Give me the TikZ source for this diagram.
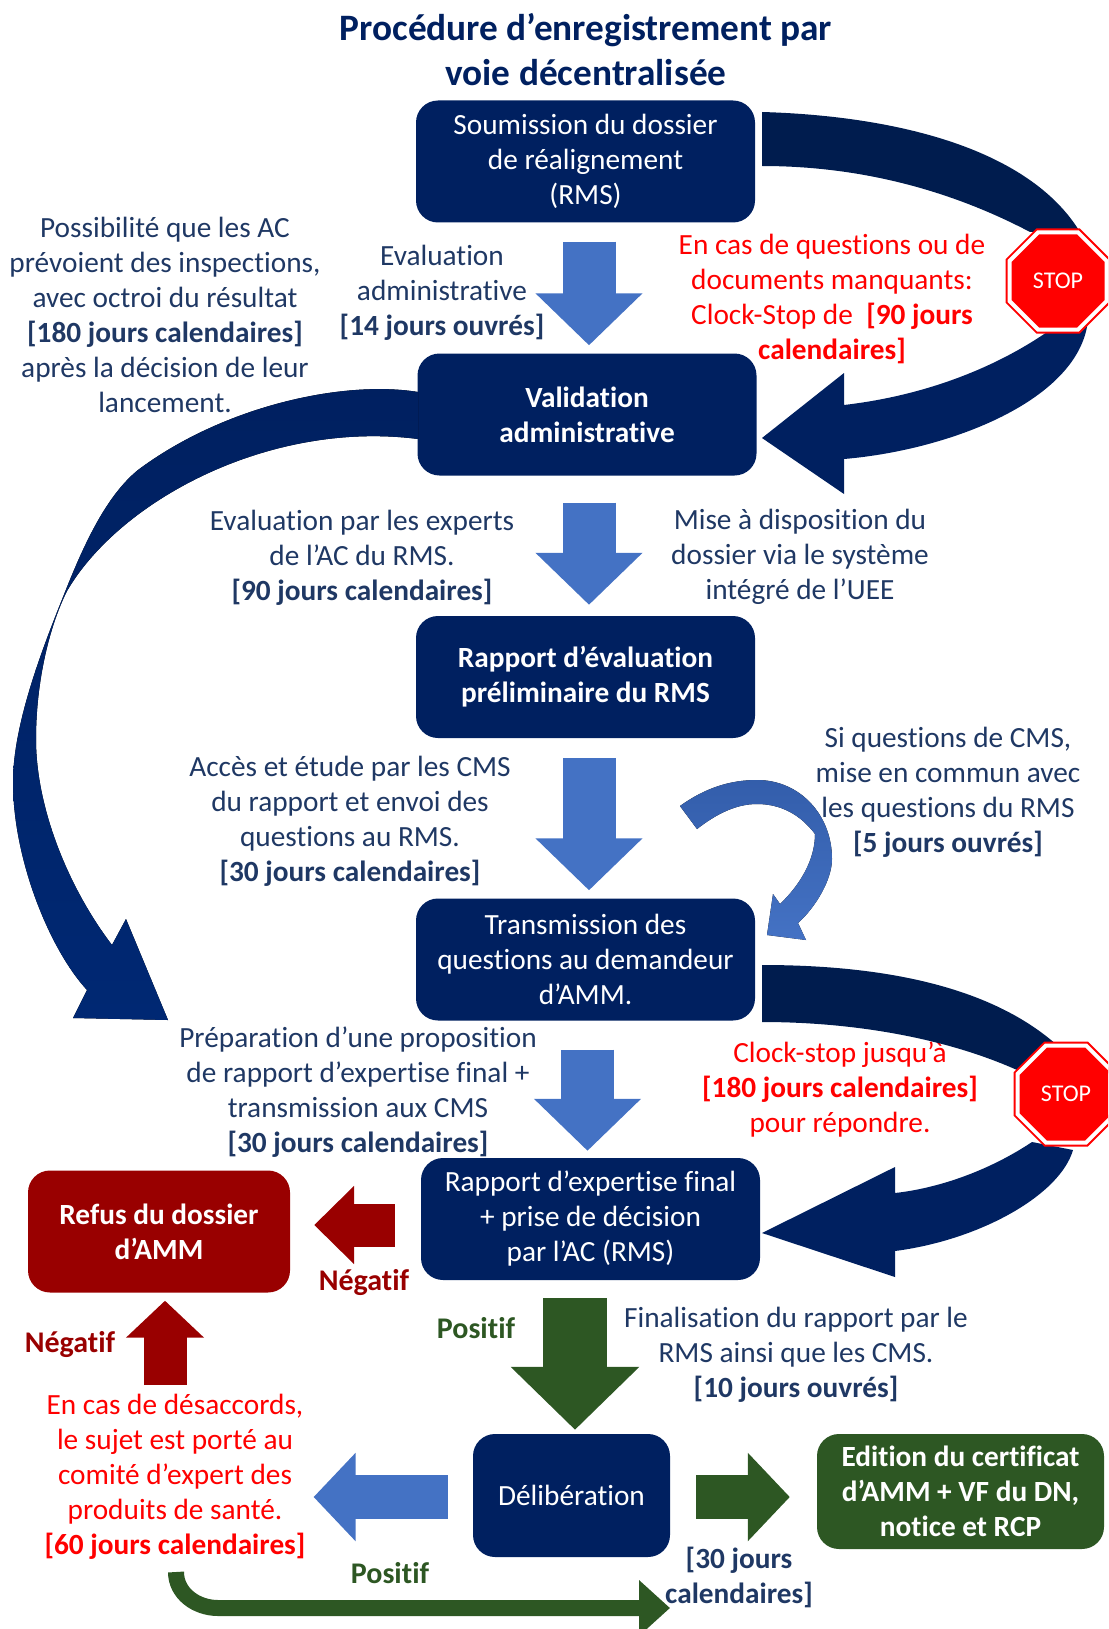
\documentclass[tikz,border=0pt]{standalone}
\usepackage{fontspec}
\setmainfont{Carlito}[Ligatures=NoCommon]
\usetikzlibrary{arrows.meta,shapes.geometric}
\definecolor{navy}{HTML}{002060}
\definecolor{navydark}{HTML}{001C4E}
\definecolor{navylight}{HTML}{002873}
\definecolor{inktext}{HTML}{1F3864}
\definecolor{flowblue}{HTML}{4472C4}
\definecolor{flowgreen}{HTML}{2D5723}
\definecolor{flowred}{HTML}{990000}
\newcommand{\bodyfont}{\fontsize{29.3}{35}\selectfont}
\tikzset{
    box/.style={rectangle, rounded corners=22pt, fill=navy, text=white, align=center, inner sep=0pt,
        font=\bodyfont, minimum width=339pt, minimum height=122pt},
    boldbox/.style={box, font=\bodyfont\bfseries},
    note/.style={align=center, inner sep=0pt, text=inktext, font=\bodyfont},
    rednote/.style={note, text=red},
    tag/.style={inner sep=0pt, font=\fontsize{30}{35}\selectfont\bfseries},
    stopsign/.style={regular polygon, regular polygon sides=8, inner sep=0pt,
        draw=red, double=white, line width=2pt, double distance=4pt, fill=red, text=white,
        minimum size=105pt, font=\fontsize{24}{28}\selectfont},
    bluedown/.style={flowblue, line width=53pt, -{Triangle[length=52pt,width=104pt]}},
    greenfat/.style={flowgreen, line width=64pt, -{Triangle[length=63pt,width=125pt]}},
    sidearrow/.style={line width=44pt, -{Triangle[length=42pt,width=86pt]}}
}

\begin{document}
\begin{tikzpicture}[x=1pt,y=-1pt]
    \useasboundingbox (0,0) rectangle (1108,1629);
    \clip (0,0) rectangle (1108,1629);

    % Title
    \node[note, text=navy, font=\fontsize{37.3}{45}\selectfont\bfseries] (title) at (586,50) {Procédure d’enregistrement par\\voie décentralisée};

    % Main boxes
    \node[box] (soum) at (585.5,161.5) {Soumission du dossier\\de réalignement\\(RMS)};
    \node[boldbox] (valid) at (587,414.5) {Validation\\administrative};
    \node[boldbox] (prelim) at (585.5,677) {Rapport d’évaluation\\préliminaire du RMS};
    \node[box] (trans) at (585.5,959.5) {Transmission des\\questions au demandeur\\d’AMM.};
    \node[box] (final) at (590.5,1219) {Rapport d’expertise final\\+ prise de décision\\par l’AC (RMS)};
    \node[boldbox, fill=flowred, minimum width=262pt] (refus) at (159,1231.5) {Refus du dossier\\d’AMM};
    \node[box, minimum width=197pt, minimum height=123pt] (delib) at (571.5,1495.5) {Délibération};
    \node[boldbox, fill=flowgreen, minimum width=287pt, minimum height=115pt] (edition) at (960.5,1491.5) {Edition du certificat\\d’AMM + VF du DN,\\notice et RCP};

    % Notes
    \node[note] (inspect) at (165,315) {Possibilité que les AC\\prévoient des inspections,\\avec octroi du résultat\\\textbf{[180 jours calendaires]}\\après la décision de leur\\lancement.};
    \node[note] (evaladm) at (442,293) {Evaluation\\administrative\\\textbf{[14 jours ouvrés]}};
    \node[rednote] (clocka) at (832,299) {En cas de questions ou de\\documents manquants:\\Clock-Stop de \ \textbf{[90 jours}\\\textbf{calendaires]}};
    \node[note] (evalexp) at (362,558) {Evaluation par les experts\\de l’AC du RMS.\\\textbf{[90 jours calendaires]}};
    \node[note] (mise) at (800,557) {Mise à disposition du\\dossier via le système\\intégré de l’UEE};
    \node[note] (acces) at (350,821) {Accès et étude par les CMS\\du rapport et envoi des\\questions au RMS.\\\textbf{[30 jours calendaires]}};
    \node[note] (siquest) at (948,792) {Si questions de CMS,\\mise en commun avec\\les questions du RMS\\\textbf{[5 jours ouvrés]}};
    \node[rednote] (clockb) at (840,1090) {Clock-stop jusqu’à\\\textbf{[180 jours calendaires]}\\pour répondre.};
    \node[note] (prepa) at (358,1092) {Préparation d’une proposition\\de rapport d’expertise final +\\transmission aux CMS\\\textbf{[30 jours calendaires]}};
    \node[note] (finalis) at (796,1355) {Finalisation du rapport par le\\RMS ainsi que les CMS.\\\textbf{[10 jours ouvrés]}};
    \node[rednote] (desac) at (175,1477) {En cas de désaccords,\\le sujet est porté au\\comité d’expert des\\produits de santé.\\\textbf{[60 jours calendaires]}};
    \node[note] (trente) at (739,1577) {\textbf{[30 jours}\\\textbf{calendaires]}};

    % Tags on the arrows
    \node[tag, text=flowred] (negright) at (364,1283) {Négatif};
    \node[tag, text=flowred] (negleft) at (70,1344) {Négatif};
    \node[tag, text=flowgreen] (posdown) at (476,1328) {Positif};
    \node[tag, text=flowgreen] (posback) at (390,1573) {Positif};

    % Straight arrows between boxes
    \draw[bluedown, shorten <=19pt, shorten >=8pt] ([xshift=3.5pt]soum.south) -- ([xshift=3.5pt]soum.south |- valid.north);
    \draw[bluedown, shorten <=27pt, shorten >=11pt] ([xshift=2pt]valid.south) -- ([xshift=2pt]valid.south |- prelim.north);
    \draw[bluedown, shorten <=20pt, shorten >=8pt] ([xshift=3.5pt]prelim.south) -- ([xshift=3.5pt]prelim.south |- trans.north);
    \draw[bluedown, shorten <=29pt, shorten >=7pt] ([xshift=2pt]trans.south) -- ([xshift=2pt]trans.south |- final.north);
    \draw[greenfat, shorten <=18pt, shorten >=4pt] ([xshift=3.5pt]delib.north |- final.south) -- ([xshift=3.5pt]delib.north);
    \draw[sidearrow, flowred, line width=43pt, -{Triangle[length=40pt,width=76pt]}, shorten <=26pt, shorten >=24pt] ([yshift=-6pt]final.west) -- ([yshift=-6pt]final.west -| refus.east);
    \draw[flowred, line width=43pt, -{Triangle[length=37pt,width=76pt]}, shorten <=9pt, shorten >=8pt] ([xshift=6pt]refus.south |- desac.north) -- ([xshift=6pt]refus.south);
    \draw[sidearrow, flowblue, shorten <=25pt, shorten >=8pt] ([yshift=-1.5pt]delib.west) -- ([yshift=-1.5pt]delib.west -| desac.east);
    \draw[sidearrow, flowgreen, shorten <=26pt, shorten >=27pt] ([yshift=-1.5pt]delib.east) -- ([yshift=-1.5pt]delib.east -| edition.west);

    % Positive return under the notes
    \coordinate (backfrom) at (176,1572);
    \coordinate (backbend) at (218,1608);
    \coordinate (backto) at (670,1608);
    \draw[flowgreen, line width=16pt, -{Triangle[length=31pt,width=54pt]}] (backfrom) to[out=-90, in=180] (backbend) -- (backto);

    % First clock-stop loop
    \fill[navydark] (762,112) .. controls (900,116) and (1030,150) .. (1080,232) -- (1030,232) .. controls (950,190) and (860,166) .. (762,166) -- cycle;
    \fill[navy] (1088,320) .. controls (1080,400) and (950,450) .. (844,459) -- (844,494) -- (762,438) -- (844,373) -- (844,405) .. controls (930,395) and (1000,365) .. (1050,330) -- cycle;
    \node[stopsign] (stopa) at (1058,281) {STOP};

    % Second clock-stop loop
    \fill[navydark] (762,965) .. controls (880,965) and (990,985) .. (1058,1046) -- (1017,1070) .. controls (950,1040) and (860,1022) .. (762,1022) -- cycle;
    \fill[navy] (1073,1150) .. controls (1060,1195) and (980,1240) .. (895,1251) -- (895,1277) -- (762,1233) -- (895,1167) -- (895,1193) .. controls (940,1188) and (990,1170) .. (1032,1142) -- cycle;
    \node[stopsign] (stopb) at (1066,1094) {STOP};

    % Inspection arrow on the left
    \fill[top color=navy, bottom color=navylight] (418,392) .. controls (345,380) and (225,405) .. (138,470) .. controls (106,496) and (84,545) .. (67,587) .. controls (47,637) and (13,720) .. (13,782) .. controls (13,860) and (50,950) .. (87,990) -- (73,1018) -- (168,1020) -- (126,919) -- (112,945) .. controls (70,890) and (36,810) .. (36,739) .. controls (36,680) and (50,625) .. (67,591) .. controls (120,500) and (270,420) .. (418,439) -- cycle;

    % Small arrow from the CMS questions
    \fill[top color=flowblue!75!navy, bottom color=flowblue] (680,806) .. controls (705,788) and (730,780) .. (757,780) .. controls (800,780) and (832,815) .. (832,859) .. controls (832,880) and (815,908) .. (798,923) -- (806,940) -- (767,935) -- (773,894) -- (780,904) .. controls (800,885) and (815,860) .. (815,834) .. controls (800,814) and (780,804) .. (757,804) .. controls (735,804) and (715,815) .. (697,829) -- cycle;

\end{tikzpicture}
\end{document}
